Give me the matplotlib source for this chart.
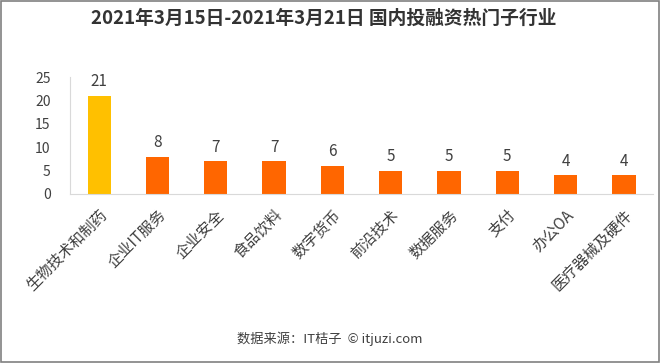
import matplotlib.pyplot as plt
from matplotlib.patches import Rectangle

plt.rcParams['font.family'] = ['Noto Sans CJK SC', 'DejaVu Sans']

categories = ["生物技术和制药", "企业IT服务", "企业安全", "食品饮料", "数字货币",
              "前沿技术", "数据服务", "支付", "办公OA", "医疗器械及硬件"]
values = [21, 8, 7, 7, 6, 5, 5, 5, 4, 4]
colors = ["#FFC000"] + ["#FF6600"] * 9

fig = plt.figure(figsize=(6.61, 3.63), dpi=100)
ax = fig.add_axes([0.106, 0.4656, 0.882, 0.322])

x = range(len(categories))
bars = ax.bar(x, values, width=0.4, color=colors)
for b, v in zip(bars, values):
    ax.text(b.get_x() + b.get_width() / 2, v + 1.2, str(v), ha="center", va="bottom",
            fontsize=11, color="#404040")

ax.set_xlim(-0.5, len(categories) - 0.5)
ax.set_ylim(0, 25)
ax.set_yticks([0, 5, 10, 15, 20, 25])
ax.set_xticks(list(x))
ax.set_xticklabels(categories, rotation=45, ha="right", rotation_mode="anchor",
                   fontsize=11, color="#404040")
ax.tick_params(axis="y", labelsize=10, labelcolor="#404040", length=0, pad=14)
ax.tick_params(axis="x", length=0, pad=9)
for s in ["top", "right"]:
    ax.spines[s].set_visible(False)
ax.spines["left"].set_color("#D9D9D9")
ax.spines["bottom"].set_color("#D9D9D9")

fig.text(324 / 661, 1 - 18 / 363, "2021年3月15日-2021年3月21日 国内投融资热门子行业",
         ha="center", va="center", fontsize=13.5, fontweight="bold", color="#333333")
fig.text(330 / 661, 1 - 339 / 363, "数据来源：IT桔子  © itjuzi.com",
         ha="center", va="center", fontsize=9.5, color="#404040")

# frame around the picture
fig.add_artist(Rectangle((0.002, 0.003), 0.995, 0.994, fill=False, edgecolor="#808080",
                         lw=1.2, transform=fig.transFigure))

fig.savefig("out.png", dpi=100, facecolor="white")
